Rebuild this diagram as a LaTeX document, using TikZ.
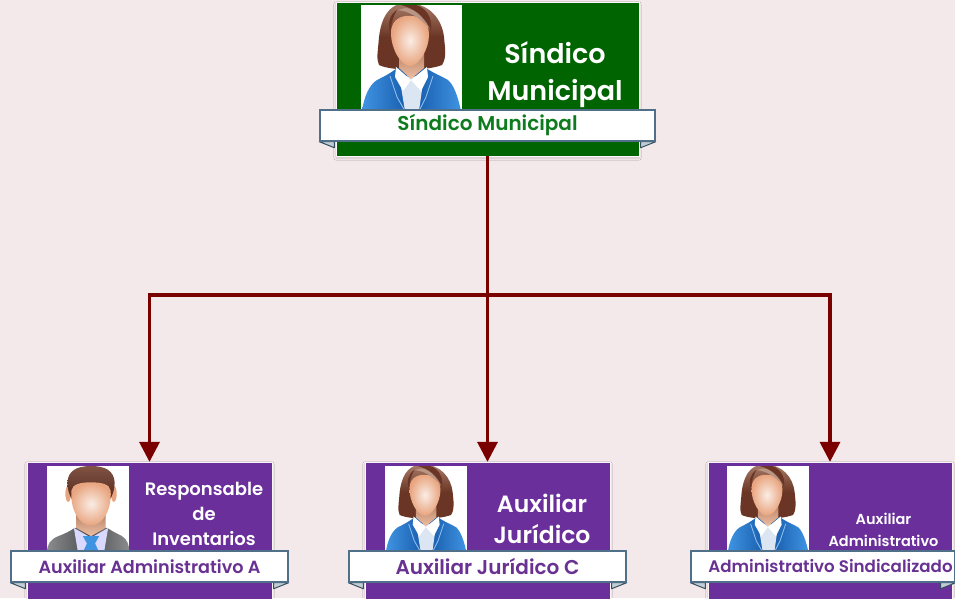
\documentclass[tikz,border=0pt]{standalone}
\usepackage{fontspec}
\setmainfont{Poppins}
\newfontfamily\medfont{Poppins SemiBold}
\newfontfamily\banfont{Poppins SemiBold}
\usetikzlibrary{arrows.meta,shadows.blur}
\definecolor{bgc}{HTML}{F3E8EA}
\definecolor{greenc}{HTML}{006400}
\definecolor{purplec}{HTML}{6B2F9B}
\definecolor{bantxtg}{HTML}{0E7C1E}
\definecolor{bantxtp}{HTML}{683192}
\definecolor{banline}{HTML}{4F7088}
\definecolor{arrowc}{HTML}{7A0000}
\definecolor{hairc}{HTML}{6A3524}
\definecolor{hairl}{HTML}{A87A68}
\definecolor{skinc}{HTML}{E8A47E}
\definecolor{jackl}{HTML}{3F94E2}
\definecolor{jackd}{HTML}{1557A8}
\definecolor{shirtc}{HTML}{DCE6F2}
\definecolor{suitl}{HTML}{8A8C8E}
\definecolor{suitd}{HTML}{4C4E50}
\tikzset{
  card/.style={rectangle,draw=white!60!bgc,line width=0.3pt,inner sep=0pt,minimum width=#1,blur shadow={shadow blur steps=4,shadow xshift=0pt,shadow yshift=-2pt,shadow opacity=15}},
  topcard/.style={card=303pt,minimum height=154pt,fill=greenc},
  lowcard/.style={card=245pt,minimum height=137pt,fill=purplec},
  banner/.style={rectangle,draw=banline,line width=1.4pt,fill=white,inner sep=0pt,minimum height=31pt},
  tail/.style={draw=banline!70!black,line width=1pt,fill=banline!35!white,line join=round},
  conn/.style={draw=arrowc,line width=3.4pt},
  connarrow/.style={conn,-{Triangle[length=20pt,width=20pt]}},
  cardtext/.style={text=white,align=center,inner sep=0pt},
  photo/.style={fill=white,draw=none},
  woman/.pic={
    \fill[photo] (0,0) rectangle (101,105);
    \begin{scope}
    \clip (0,0) rectangle (101,105);
    \shade[top color=hairl,bottom color=hairc,middle color=hairc]
      (46,-2) .. controls (26,-2) and (20,16) .. (18,32)
      .. controls (17,46) and (15,54) .. (18,60)
      .. controls (30,66) and (66,66) .. (81,60)
      .. controls (86,52) and (84,44) .. (83,32)
      .. controls (81,14) and (68,-2) .. (46,-2) -- cycle;
    \shade[left color=jackl,right color=jackl,middle color=jackd]
      (1,106) .. controls (3,92) and (8,80) .. (16,75)
      .. controls (24,71) and (30,68) .. (36,63)
      -- (65,63) .. controls (72,68) and (80,71) .. (87,75)
      .. controls (93,80) and (97,92) .. (100,106) -- cycle;
    \fill[shirtc] (38,70) -- (50,72) -- (63,70) -- (58,106) -- (44,106) -- cycle;
    \fill[white] (35,62) -- (50,75) -- (42,86) -- (34,72) -- cycle;
    \fill[white] (66,62) -- (50,75) -- (60,86) -- (67,72) -- cycle;
    \draw[jackl!60!white,line width=0.9pt] (29,71) -- (36,92) -- (44,106);
    \draw[jackl!60!white,line width=0.9pt] (72,71) -- (65,92) -- (58,106);
    \shade[top color=skinc!80!black,bottom color=skinc!70!white] (38,48) -- (63,48) -- (63,63) -- (50,74) -- (38,63) -- cycle;
    \shade[inner color=skinc!20!white,outer color=skinc]
      (30,28) .. controls (30,12) and (44,10) .. (50,11)
      .. controls (60,11) and (68,16) .. (68,30)
      .. controls (68,44) and (58,61) .. (49,61)
      .. controls (40,61) and (30,44) .. (30,28) -- cycle;
    \fill[hairc] (40,0) .. controls (52,3) and (64,10) .. (70,26)
      .. controls (72,12) and (64,0) .. (50,-1) -- cycle;
    \fill[hairl!80!white] (36,5) .. controls (48,6) and (58,12) .. (69,24)
      .. controls (60,8) and (50,3) .. (44,3) -- cycle;
    \fill[hairc] (36,5) .. controls (32,12) and (29,20) .. (30,30)
      .. controls (26,20) and (28,10) .. (36,5) -- cycle;
    \end{scope}
  },
  man/.pic={
    \fill[photo] (0,0) rectangle (101,105);
    \begin{scope}
    \clip (0,0) rectangle (101,105);
    \shade[left color=suitl,right color=suitl,middle color=suitd]
      (0,106) .. controls (0,96) and (4,90) .. (14,86)
      .. controls (22,83) and (28,80) .. (34,76)
      -- (74,76) .. controls (80,80) and (86,83) .. (92,86)
      .. controls (98,90) and (101,96) .. (101,106) -- cycle;
    \fill[white!85!blue] (33,76) -- (54,88) -- (75,76) -- (70,106) -- (38,106) -- cycle;
    \fill[jackl] (44,86) -- (64,86) -- (59,95) -- (64,106) -- (44,106) -- (49,95) -- cycle;
    \shade[top color=skinc!75!black,bottom color=skinc!70!white] (36,55) -- (72,55) -- (72,76) -- (54,86) -- (36,76) -- cycle;
    \fill[skinc] (26,34) ellipse (3.5 and 10);
    \fill[skinc] (82,34) ellipse (3.5 and 10);
    \shade[top color=hairc!85!white,bottom color=hairc!80!black]
      (54,0) .. controls (36,0) and (26,6) .. (25,20) .. controls (25,28) and (27,34) .. (30,40)
      -- (78,40) .. controls (81,34) and (83,28) .. (83,20)
      .. controls (82,6) and (72,0) .. (54,0) -- cycle;
    \shade[inner color=skinc!20!white,outer color=skinc]
      (30,30) .. controls (31,22) and (42,20) .. (54,20)
      .. controls (66,20) and (77,22) .. (78,30)
      .. controls (80,50) and (70,73) .. (54,73)
      .. controls (38,73) and (28,50) .. (30,30) -- cycle;
    \end{scope}
  },
}
\newcommand{\ribbon}[6]{% name, cx, cy, width, colour, text
  \node[banner,minimum width=#4] (#1) at (#2,#3) {};
  \draw[tail] (#1.south west) -- ++(15,6) -- ++(0,-6) -- cycle;
  \draw[tail] (#1.south east) -- ++(-15,6) -- ++(0,-6) -- cycle;
  \node[banner,minimum width=#4] (#1) at (#2,#3) {};
  \node[inner sep=0pt,text=#5] (#1t) at (#2,#3) {#6};
}
\begin{document}
\begin{tikzpicture}[x=1pt,y=-1pt]
\useasboundingbox (0,0) rectangle (955,598);
\clip (0,0) rectangle (955,598);
\fill[bgc] (0,0) rectangle (955,598);
\node[topcard] (top) at (487.5,79) {};
\node[lowcard] (cA) at (149.5,530.5) {};
\node[lowcard] (cB) at (487.5,530.5) {};
\node[lowcard,minimum width=244pt] (cC) at (830,530.5) {};
\coordinate (hub) at (487.5,295);
\draw[connarrow] (top.south) -- (cB.north);
\draw[connarrow] (hub) -| (cA.north);
\draw[connarrow] (hub) -| (cC.north);
\pic at (361,5) {woman};
\pic[scale=0.815] at (47,466) {man};
\pic[scale=0.815] at (385,466) {woman};
\pic[scale=0.815] at (727,466) {woman};
\node[cardtext,font=\medfont\fontsize{27}{37}\selectfont] (tt0) at (555,75) {Síndico\\Municipal};
\node[cardtext,font=\medfont\fontsize{18}{25}\selectfont] (tt1) at (204,513.5) {Responsable\\de\\Inventarios};
\node[cardtext,font=\medfont\fontsize{23.5}{31}\selectfont] (tt2) at (542,519) {Auxiliar\\Jurídico};
\node[cardtext,font=\medfont\fontsize{14.5}{22}\selectfont] (tt3) at (883.5,529.5) {Auxiliar\\Administrativo};
\ribbon{b0}{487.5}{125.5}{335pt}{bantxtg}{\banfont\fontsize{20}{22}\selectfont Síndico Municipal}
\ribbon{bA}{149.5}{566.5}{277pt}{bantxtp}{\banfont\fontsize{17.6}{20}\selectfont Auxiliar Administrativo A}
\ribbon{bB}{487.5}{566.5}{277pt}{bantxtp}{\banfont\fontsize{20}{20}\selectfont Auxiliar Jurídico C}
\ribbon{bC}{823}{566.5}{264pt}{bantxtp}{\banfont\fontsize{16.7}{20}\selectfont\hspace*{15pt}Administrativo Sindicalizado}
\end{tikzpicture}
\end{document}
